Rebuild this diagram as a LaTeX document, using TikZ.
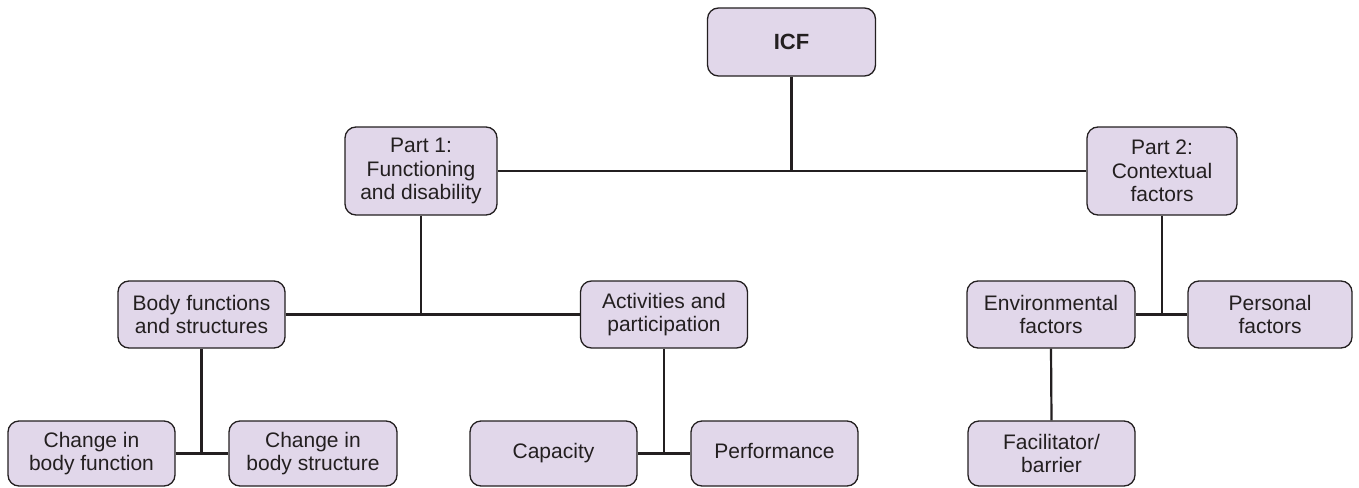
\documentclass[tikz,border=0pt]{standalone}
\usepackage{fontspec}
\setmainfont{Liberation Sans}
\definecolor{boxfill}{HTML}{E1D7EA}
\definecolor{ink}{HTML}{231F20}
\begin{document}
\begin{tikzpicture}[x=1pt,y=-1pt,
  box/.style={draw=ink, fill=boxfill, line width=1.3pt, rounded corners=11pt,
    inner sep=0pt, align=center, text=ink,
    font=\fontsize{21}{23.5}\selectfont},
  link/.style={draw=ink, line width=2.2pt}]
\useasboundingbox (0,0) rectangle (1359,487);

% top level
\node[box, minimum width=168pt, minimum height=68pt, font=\fontsize{22}{24}\selectfont\bfseries] (icf) at (791.5,42) {ICF};

% parts
\node[box, minimum width=152pt, minimum height=88pt] (p1) at (421,171) {Part 1:\\Functioning\\and disability};
\node[box, minimum width=150pt, minimum height=88pt] (p2) at (1162,171) {Part 2:\\Contextual\\factors};

% components
\node[box, minimum width=167pt, minimum height=67pt] (bfs) at (201.5,314.5) {Body functions\\and structures};
\node[box, minimum width=167pt, minimum height=67pt] (act) at (664,314.5) {Activities and\\participation};
\node[box, minimum width=168pt, minimum height=67pt] (env) at (1051,314.5) {Environmental\\factors};
\node[box, minimum width=164pt, minimum height=67pt] (per) at (1270,314.5) {Personal\\factors};

% constructs
\node[box, minimum width=167pt, minimum height=65pt] (cbf) at (91.5,453.5) {Change in\\body function};
\node[box, minimum width=168pt, minimum height=65pt] (cbs) at (313,453.5) {Change in\\body structure};
\node[box, minimum width=167pt, minimum height=65pt] (cap) at (553.5,453.5) {\strut Capacity};
\node[box, minimum width=167pt, minimum height=65pt] (perf) at (774.5,453.5) {\strut Performance};
\node[box, minimum width=167pt, minimum height=65pt] (fac) at (1051.5,453.5) {Facilitator/\\barrier};

% connectors
\draw[link] (icf.south) -- (icf.south |- p1.east);
\draw[link] (p1.east) -- (p2.west);
\draw[link] (p1.south) -- (p1.south |- bfs.east);
\draw[link] (bfs.east) -- (act.west);
\draw[link] (p2.south) -- (p2.south |- env.east);
\draw[link] (env.east) -- (per.west);
\draw[link] (bfs.south) -- (bfs.south |- cbf.east);
\draw[link] (cbf.east) -- (cbs.west);
\draw[link] (act.south) -- (act.south |- cap.east);
\draw[link] (cap.east) -- (perf.west);
\draw[link] (env.south) -- (fac.north);
\end{tikzpicture}
\end{document}
